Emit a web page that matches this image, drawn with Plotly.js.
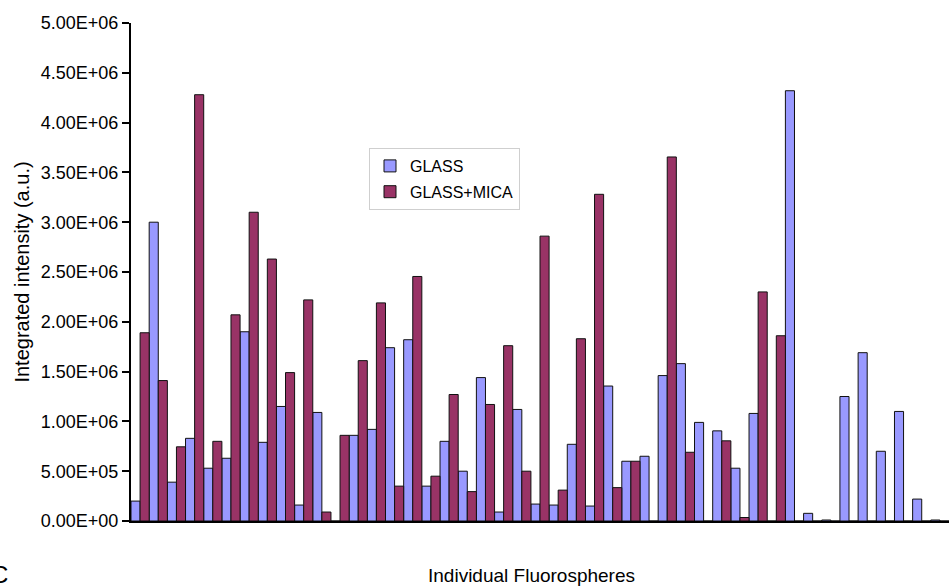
<!DOCTYPE html>
<html>
<head>
<meta charset="utf-8">
<script src="https://cdn.plot.ly/plotly-3.0.1.min.js"></script>
<style>
  html, body { margin: 0; padding: 0; background: #ffffff; }
  #chart { width: 951px; height: 588px; }
</style>
</head>
<body>
<div id="chart"></div>
<script>
// Individual fluorosphere index (categories)
const fluorospheres = [];
for (let i = 1; i <= 45; i++) fluorospheres.push(i);

// Integrated intensity (a.u.), GLASS
const glass = [
  0.20e6, 3.00e6, 0.39e6, 0.83e6, 0.53e6, 0.63e6, 1.90e6, 0.79e6, 1.15e6, 0.16e6,
  1.09e6, 0, 0.86e6, 0.92e6, 1.74e6, 1.82e6, 0.35e6, 0.80e6, 0.50e6, 1.44e6,
  0.09e6, 1.12e6, 0.17e6, 0.16e6, 0.77e6, 0.15e6, 1.355e6, 0.60e6, 0.65e6, 1.46e6,
  1.58e6, 0.99e6, 0.905e6, 0.53e6, 1.08e6, 0, 4.32e6, 0.077e6, 0.01e6, 1.25e6,
  1.69e6, 0.70e6, 1.10e6, 0.22e6, 0.01e6
];

// Integrated intensity (a.u.), GLASS+MICA
const glassMica = [
  1.89e6, 1.41e6, 0.745e6, 4.28e6, 0.80e6, 2.07e6, 3.10e6, 2.63e6, 1.49e6, 2.22e6,
  0.09e6, 0.86e6, 1.61e6, 2.19e6, 0.35e6, 2.455e6, 0.45e6, 1.27e6, 0.295e6, 1.17e6,
  1.76e6, 0.50e6, 2.86e6, 0.31e6, 1.83e6, 3.28e6, 0.335e6, 0.60e6, 0, 3.655e6,
  0.69e6, 0, 0.805e6, 0.035e6, 2.30e6, 1.86e6, 0, 0, 0, 0,
  0, 0, 0, 0, 0
];

const yTickVals = [0, 5e5, 1e6, 1.5e6, 2e6, 2.5e6, 3e6, 3.5e6, 4e6, 4.5e6, 5e6];
const yTickLabels = ['0.00E+00', '5.00E+05', '1.00E+06', '1.50E+06', '2.00E+06',
  '2.50E+06', '3.00E+06', '3.50E+06', '4.00E+06', '4.50E+06', '5.00E+06'];

const FONT = 'Arial, "Liberation Sans", sans-serif';

const traces = [
  {
    type: 'bar', name: 'GLASS', x: fluorospheres, y: glass,
    marker: { color: '#9999ff', line: { color: '#111111', width: 1 } },
    legendgroup: 'g1'
  },
  {
    type: 'bar', name: 'GLASS+MICA', x: fluorospheres, y: glassMica,
    marker: { color: '#993366', line: { color: '#111111', width: 1 } },
    legendgroup: 'g2'
  }
];

const layout = {
  width: 951, height: 588,
  margin: { l: 131, r: 2, t: 23, b: 67 },
  paper_bgcolor: '#ffffff', plot_bgcolor: '#ffffff',
  barmode: 'group', bargap: 0, bargroupgap: 0,
  font: { family: FONT, color: '#000000' },
  showlegend: true,
  legend: {
    x: (369 - 131) / 818, y: 0.749, xanchor: 'left', yanchor: 'top',
    bgcolor: '#ffffff', bordercolor: '#cfcfcf', borderwidth: 1,
    font: { family: FONT, size: 16, color: '#000000' },
    itemwidth: 30,
    tracegroupgap: 2
  },
  xaxis: {
    type: 'category', range: [-0.5, 44.5],
    showticklabels: false, ticks: '', showgrid: false, zeroline: false,
    showline: true, linecolor: '#000000', linewidth: 2
  },
  yaxis: {
    range: [0, 5e6], tickvals: yTickVals, ticktext: yTickLabels,
    ticks: 'outside', ticklen: 7, tickwidth: 2, tickcolor: '#000000',
    showgrid: false, zeroline: false,
    showline: true, linecolor: '#000000', linewidth: 2,
    tickfont: { family: FONT, size: 18, color: '#000000' },
    title: { text: 'Integrated intensity (a.u.)', font: { family: FONT, size: 20, color: '#000000' }, standoff: 6 }
  },
  annotations: [
    {
      text: 'Individual Fluorospheres', xref: 'paper', yref: 'paper',
      x: (531 - 131) / 818, y: -(575 - 521) / 498,
      xanchor: 'center', yanchor: 'middle', showarrow: false,
      font: { family: FONT, size: 19, color: '#000000' }
    },
    {
      text: 'C', xref: 'paper', yref: 'paper',
      x: (10 - 131) / 818, y: -(574 - 521) / 498,
      xanchor: 'right', yanchor: 'middle', showarrow: false,
      font: { family: FONT, size: 24, color: '#000000' }
    }
  ]
};

Plotly.newPlot('chart', traces, layout, { displayModeBar: false, staticPlot: true });
</script>
</body>
</html>
